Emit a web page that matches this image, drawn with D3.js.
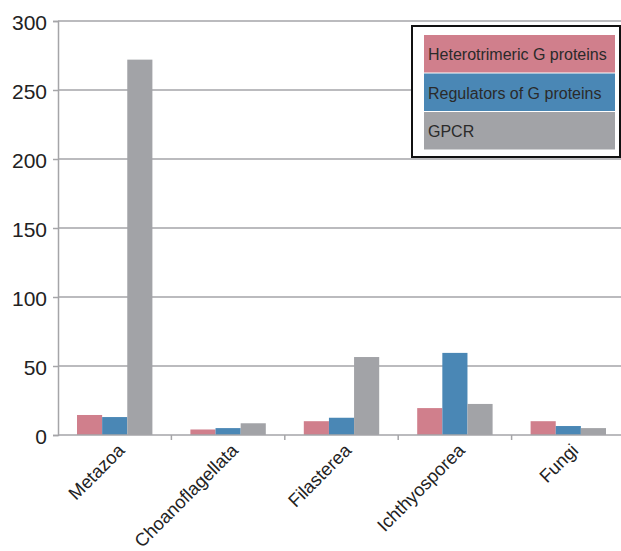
<!DOCTYPE html>
<html><head><meta charset="utf-8">
<script src="https://cdn.jsdelivr.net/npm/d3@7"></script>
<style>body{margin:0;background:#fff;}svg{display:block;font-family:"Liberation Sans",Arial,sans-serif;}</style>
</head><body>
<svg id="c" width="621" height="551"></svg>
<script>
const categories = ["Metazoa","Choanoflagellata","Filasterea","Ichthyosporea","Fungi"];
const seriesNames = ["Heterotrimeric G proteins","Regulators of G proteins","GPCR"];
const heterotrimeric = [14.5, 4, 10, 19.5, 10];
const regulators = [13, 5, 12.5, 59.5, 6.5];
const gpcr = [272, 8.5, 56.5, 22.5, 5];
const yTicks = [0,50,100,150,200,250,300];
const colors = ["#d07f8c","#4a87b5","#a2a3a7"];

const series = [heterotrimeric, regulators, gpcr];
const svg = d3.select("#c");
const x = d3.scaleBand().domain(categories).range([58, 625]).paddingInner(0).paddingOuter(0);
const xs = d3.scaleBand().domain(d3.range(3)).range([19, x.bandwidth()-19]);
const y = d3.scaleLinear().domain([0,300]).range([435, 21]);

// gridlines
svg.append("g").selectAll("line").data(yTicks.slice(1)).join("line")
  .attr("x1",58).attr("x2",621).attr("y1",d=>y(d)).attr("y2",d=>y(d))
  .attr("stroke","#a5a5a8").attr("stroke-width",1.5);

// bars
categories.forEach((c,i)=>{
  series.forEach((s,j)=>{
    svg.append("rect").attr("x",x(c)+xs(j)).attr("width",xs.bandwidth())
      .attr("y",y(s[i])).attr("height",y(0)-y(s[i])).attr("fill",colors[j]);
  });
});

// y axis
const ya = svg.append("g").attr("transform","translate(58,0)")
  .call(d3.axisLeft(y).tickValues(yTicks).tickSize(5).tickPadding(6));
ya.select(".domain").attr("stroke","#a5a5a8").attr("stroke-width",1.5);
ya.selectAll(".tick line").attr("stroke","#a5a5a8").attr("stroke-width",1.5);
ya.selectAll("text").attr("font-size",21).attr("fill","#222").attr("dy","0.42em")
  .attr("font-family","Liberation Sans, Arial, sans-serif");

// x axis
const xa = svg.append("g").attr("transform","translate(0,435)");
xa.append("line").attr("x1",58).attr("x2",621).attr("stroke","#a5a5a8").attr("stroke-width",1.5);
xa.selectAll(".tk").data(categories.slice(1)).join("line")
  .attr("x1",d=>x(d)).attr("x2",d=>x(d)).attr("y1",0).attr("y2",5)
  .attr("stroke","#a5a5a8").attr("stroke-width",1.5);
xa.selectAll("text").data(categories).join("text")
  .attr("transform",d=>`translate(${x(d)+x.bandwidth()/2+11},16.5) rotate(-45)`)
  .attr("text-anchor","end")
  .attr("font-size",18.3).attr("fill","#222").text(d=>d);

// legend
const lg = svg.append("g");
lg.append("rect").attr("x",412).attr("y",26).attr("width",208).attr("height",131)
  .attr("fill","#fff").attr("stroke","#111").attr("stroke-width",2);
seriesNames.forEach((n,j)=>{
  lg.append("rect").attr("x",424).attr("y",35+j*38.5).attr("width",191).attr("height",37.5).attr("fill",colors[j]);
  lg.append("text").attr("x",428).attr("y",35+j*38.5+25).attr("font-size",16).attr("fill","#2a2a2a").text(n);
});
</script>
</body></html>
